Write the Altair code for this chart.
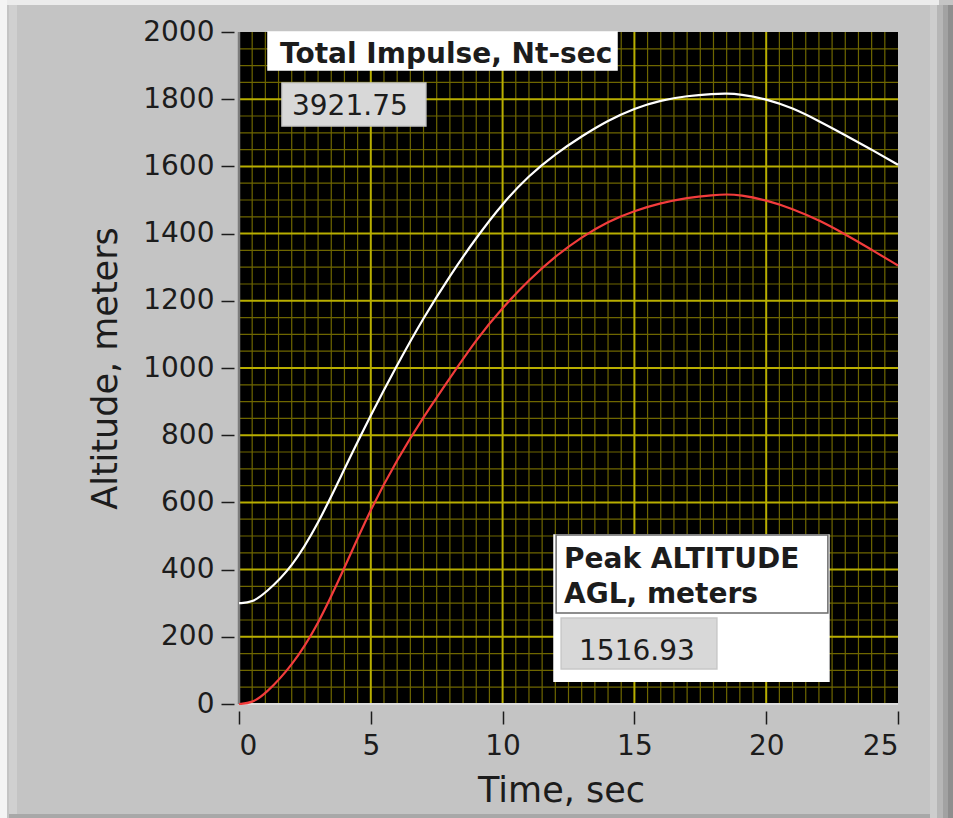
import altair as alt
import pandas as pd

# ---- data ----
time_s = [0, 0.5, 1, 2, 3, 4, 5, 6, 7, 8, 9, 10, 11, 12, 13, 14, 15, 16, 17, 18, 18.5, 19, 20, 21, 22, 23, 24, 25]
alt_white = [300, 302, 330, 405, 535, 700, 860, 1010, 1150, 1275, 1388, 1490, 1573, 1637, 1690, 1737, 1773, 1797, 1810, 1816, 1817, 1815, 1801, 1774, 1735, 1693, 1650, 1605]
alt_red = [0, 3, 30, 112, 235, 405, 582, 728, 855, 970, 1085, 1180, 1262, 1333, 1390, 1436, 1468, 1491, 1507, 1515, 1517, 1515, 1500, 1474, 1440, 1398, 1352, 1305]

x_major = [5, 10, 15, 20]
x_minor = [v / 2 for v in range(1, 50) if v % 10 != 0]
y_major = [200, 400, 600, 800, 1000, 1200, 1400, 1600, 1800]
y_minor = [v for v in range(50, 2000, 50) if v % 200 != 0]
x_ticks = [0, 5, 10, 15, 20, 25]
y_ticks = [0, 200, 400, 600, 800, 1000, 1200, 1400, 1600, 1800, 2000]

impulse_label = "Total Impulse, Nt-sec"
impulse_value = "3921.75"
peak_label = ["Peak ALTITUDE", "AGL, meters"]
peak_value = "1516.93"

# ---- styling ----
FONT = "DejaVu Sans"
MAJOR = "#b8ae00"
MINOR = "#6e6600"
TXT = "#1c1c1c"
W, H = 659, 672

rows = []
for t, w, r in zip(time_s, alt_white, alt_red):
    rows.append({"t": t, "v": w, "s": "white"})
    rows.append({"t": t, "v": r, "s": "red"})
df = pd.DataFrame(rows)

xs = alt.Scale(domain=[0, 25], nice=False, zero=False)
ys = alt.Scale(domain=[0, 2000], nice=False, zero=False)


def vrules(vals, color, width):
    return alt.Chart(pd.DataFrame({"t": vals})).mark_rule(color=color, strokeWidth=width).encode(
        x=alt.X("t:Q", scale=xs, axis=None),
        y=alt.value(0), y2=alt.value(H))


def hrules(vals, color, width):
    return alt.Chart(pd.DataFrame({"v": vals})).mark_rule(color=color, strokeWidth=width).encode(
        y=alt.Y("v:Q", scale=ys, axis=None),
        x=alt.value(0), x2=alt.value(W))


grid = [vrules(x_minor, MINOR, 1.2), hrules(y_minor, MINOR, 1.2),
        vrules(x_major, MAJOR, 2), hrules(y_major, MAJOR, 2)]

# plot-area edges: dark gray at left, light at bottom
edge_left = vrules([0], "#7c7c7c", 2.5)
edge_bottom = hrules([0], "#dedede", 2)

lines = alt.Chart(df).mark_line(strokeWidth=2.2, interpolate="basis").encode(
    x=alt.X("t:Q", scale=xs, axis=alt.Axis(
        values=x_ticks, grid=False, format="d",
        orient="bottom", offset=7, tickSize=13, tickColor=TXT, tickWidth=1.5,
        labelPadding=8, labelFont=FONT, labelFontSize=28, labelColor=TXT, domain=False,
        title="Time, sec", titleFont=FONT, titleFontSize=35, titleFontWeight="normal",
        titleColor=TXT, titlePadding=13, titleX=322)),
    y=alt.Y("v:Q", scale=ys, axis=alt.Axis(
        values=y_ticks, grid=False, format="d",
        orient="left", offset=5, tickSize=13, tickColor=TXT, tickWidth=1.5,
        labelPadding=7, labelFont=FONT, labelFontSize=28, labelColor=TXT, domain=False,
        title="Altitude, meters", titleFont=FONT, titleFontSize=35, titleFontWeight="normal",
        titleColor=TXT, titlePadding=19)),
    color=alt.Color("s:N", scale=alt.Scale(domain=["white", "red"], range=["#ffffff", "#f23c3c"]), legend=None),
    detail="s:N",
)

# annotation boxes (in data units)
boxes = pd.DataFrame([
    {"x0": 1.10, "x1": 14.34, "y0": 2000, "y1": 1887, "fill": "#ffffff", "stroke": "#ffffff"},
    {"x0": 1.63, "x1": 7.09, "y0": 1848, "y1": 1720, "fill": "#d8d8d8", "stroke": "#c8c8c8"},
    {"x0": 11.95, "x1": 22.38, "y0": 503, "y1": 68, "fill": "#ffffff", "stroke": "#ffffff"},
    {"x0": 12.03, "x1": 22.34, "y0": 503, "y1": 271, "fill": "#ffffff", "stroke": "#6a6a6a"},
    {"x0": 12.22, "x1": 18.13, "y0": 256, "y1": 104, "fill": "#d8d8d8", "stroke": "#c8c8c8"},
])
box_layer = alt.Chart(boxes).mark_rect(strokeWidth=1.5).encode(
    x=alt.X("x0:Q", scale=xs, axis=None), x2="x1:Q",
    y=alt.Y("y0:Q", scale=ys, axis=None), y2="y1:Q",
    fill=alt.Fill("fill:N", scale=None),
    stroke=alt.Stroke("stroke:N", scale=None),
)

labels = pd.DataFrame([
    {"x": 1.56, "y": 1908, "txt": impulse_label, "w": "bold"},
    {"x": 2.01, "y": 1753, "txt": impulse_value, "w": "normal"},
    {"x": 12.33, "y": 405, "txt": peak_label[0], "w": "bold"},
    {"x": 12.33, "y": 300, "txt": peak_label[1], "w": "bold"},
    {"x": 12.90, "y": 131, "txt": peak_value, "w": "normal"},
])
text_bold = alt.Chart(labels).transform_filter("datum.w == 'bold'").mark_text(
    align="left", baseline="alphabetic", font=FONT, fontSize=28, fontWeight="bold", color=TXT
).encode(x=alt.X("x:Q", scale=xs, axis=None), y=alt.Y("y:Q", scale=ys, axis=None), text="txt:N")
text_norm = alt.Chart(labels).transform_filter("datum.w == 'normal'").mark_text(
    align="left", baseline="alphabetic", font=FONT, fontSize=28, fontWeight="normal", color=TXT
).encode(x=alt.X("x:Q", scale=xs, axis=None), y=alt.Y("y:Q", scale=ys, axis=None), text="txt:N")


# window frame decoration (pixel offsets relative to the plot origin)
def frame_rect(x0, x1, y0, y1, c):
    return alt.Chart(pd.DataFrame({"k": [0]})).mark_rect(color=c).encode(
        x=alt.value(x0), x2=alt.value(x1), y=alt.value(y0), y2=alt.value(y1))


frame = [
    frame_rect(-239, 700, -32, -27, "#ececec"),
    frame_rect(-239, -232, -32, 786, "#f4f4f4"),
    frame_rect(-230, -222, -27, 783, "#d0d0d0"),
    frame_rect(691, 698, -27, 786, "#cdcdcd"),
    frame_rect(698, 704, -27, 786, "#b6b6b6"),
    frame_rect(704, 709, -27, 786, "#a2a2a2"),
    frame_rect(709, 714, -27, 786, "#8e8e8e"),
    frame_rect(-230, 691, 782, 786, "#a8a8a8"),
]

chart = alt.layer(
    *frame, *grid, edge_left, edge_bottom, lines, box_layer, text_bold, text_norm
).resolve_scale(x="independent", y="independent").properties(
    width=W, height=H,
    autosize=alt.AutoSizeParams(type="none"),
    padding={"left": 239, "top": 32, "right": 55, "bottom": 114},
    background="#c4c4c4",
).configure_view(
    fill="#000000", strokeWidth=0
)

chart.save("out.html", embed_options={"renderer": "svg", "actions": False})
